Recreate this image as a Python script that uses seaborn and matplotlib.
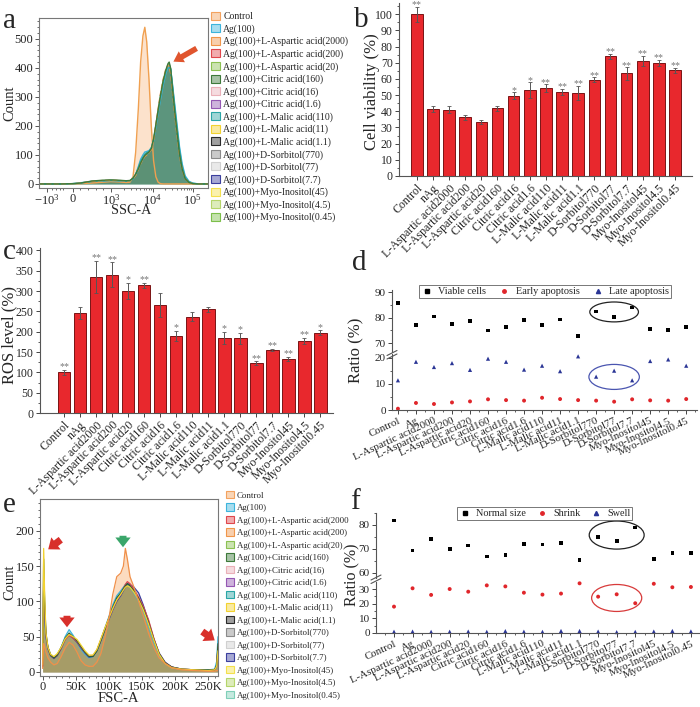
import numpy as np
import pandas as pd
import matplotlib
matplotlib.use("Agg")
import matplotlib.pyplot as plt
import seaborn as sns
from matplotlib.patches import Patch, Ellipse
from matplotlib.lines import Line2D
from matplotlib.colors import to_rgba
from matplotlib.ticker import MultipleLocator, FixedLocator

sns.set_theme(style="ticks")
plt.rcParams["font.family"] = ["Liberation Serif", "DejaVu Serif"]
plt.rcParams["mathtext.fontset"] = "custom"
plt.rcParams["mathtext.rm"] = "Liberation Serif"
plt.rcParams["axes.linewidth"] = 0.8

# ---------------- data ----------------
b_labels = ["Control", "nAg", "L-Aspartic acid2000", "L-Aspartic acid200", "L-Aspartic acid20",
            "Citric acid160", "Citric acid16", "Citric acid1.6", "L-Malic acid110", "L-Malic acid11",
            "L-Malic acid1.1", "D-Sorbitol770", "D-Sorbitol77", "D-Sorbitol7.7", "Myo-Inositol45",
            "Myo-Inositol4.5", "Myo-Inositol0.45"]
d_labels = ["Control", "Ag"] + b_labels[2:]

viability = [100, 41.5, 41, 36.2, 33.6, 41.8, 49.7, 53, 54.5, 52, 51.3, 59.6, 74, 63.4, 71.3, 70, 65.5]
viability_err = [4.5, 1.8, 2, 1.5, 1.2, 1.5, 2.2, 5, 2.3, 2, 4.5, 1.5, 1.6, 3.8, 3, 2, 1.5]
viability_sig = ["**", "", "", "", "", "", "*", "*", "**", "**", "**", "**", "**", "**", "**", "**", "**"]

ros = [100, 246, 335, 340, 301, 314, 265, 190, 237, 255, 185, 184, 122, 155, 133, 178, 198]
ros_err = [7, 15, 40, 31, 20, 6, 30, 12, 11, 7, 15, 14, 5, 3, 6, 7, 6]
ros_sig = ["**", "", "**", "**", "*", "**", "", "*", "", "", "*", "*", "**", "**", "**", "**", "*"]

viable_cells = [85.8, 77.1, 80.4, 77.6, 78.7, 74.9, 76.3, 79.1, 77.2, 79.3, 72.8, 82.4, 80.3, 83.9, 75.4, 75.0, 76.3]
early_apoptosis = [0.5, 2.7, 2.3, 2.9, 3.3, 4.1, 3.8, 3.6, 4.7, 4.2, 3.8, 3.6, 3.2, 4.1, 3.7, 3.6, 4.2]
late_apoptosis = [11.4, 18.5, 16.5, 18.0, 15.4, 19.7, 18.5, 15.5, 17.0, 14.9, 20.6, 12.8, 15.1, 11.4, 18.8, 19.4, 17.0]

normal_size = [81.9, 69.3, 74.2, 70.0, 71.5, 66.9, 67.5, 72.1, 71.9, 72.4, 65.4, 75.0, 73.3, 78.9, 65.9, 68.2, 68.2]
shrink = [18.0, 30.5, 26.0, 30.0, 28.2, 32.5, 31.8, 27.5, 26.2, 26.9, 33.9, 24.8, 26.4, 20.3, 33.6, 31.2, 31.4]
swell = [0.9, 1.0, 0.8, 0.9, 1.0, 0.8, 1.3, 0.9, 0.8, 1.4, 1.4, 1.0, 0.6, 0.8, 1.0, 1.4, 1.1]

a_legend = ["Control", "Ag(100)", "Ag(100)+L-Aspartic acid(2000)", "Ag(100)+L-Aspartic acid(200)",
            "Ag(100)+L-Aspartic acid(20)", "Ag(100)+Citric acid(160)", "Ag(100)+Citric acid(16)",
            "Ag(100)+Citric acid(1.6)", "Ag(100)+L-Malic acid(110)", "Ag(100)+L-Malic acid(11)",
            "Ag(100)+L-Malic acid(1.1)", "Ag(100)+D-Sorbitol(770)", "Ag(100)+D-Sorbitol(77)",
            "Ag(100)+D-Sorbitol(7.7)", "Ag(100)+Myo-Inositol(45)", "Ag(100)+Myo-Inositol(4.5)",
            "Ag(100)+Myo-Inositol(0.45)"]
e_legend = ["Control", "Ag(100)", "Ag(100)+L-Aspartic acid(2000", "Ag(100)+L-Aspartic acid(200)"] + a_legend[4:]
a_colors = ["#f3a25e", "#3cb4dc", "#f0964a", "#e0474c", "#8cc152", "#3d7a3a", "#eab0b8", "#9457b3",
            "#2aa6a6", "#f2d230", "#2a2a2a", "#8a8a8a", "#d0d0d0", "#3b3f9e", "#f4e04d", "#b5d56a", "#7cbf4a"]
e_colors = ["#f3a25e", "#3cb4dc", "#e0474c", "#f0964a", "#8cc152", "#3d7a3a", "#eab0b8", "#9457b3",
            "#2aa6a6", "#f2d230", "#2a2a2a", "#8a8a8a", "#d0d0d0", "#3b3f9e", "#f4e04d", "#b5d56a", "#7fcfb8"]

# SSC-A histograms (x in display units of the biexponential axis)
a_x = [-0.89, -0.3, 0.0, 0.2, 0.5, 0.8, 1.0, 1.2, 1.4, 1.5, 1.58, 1.65, 1.72, 1.78, 1.84, 1.89, 1.94, 2.0, 2.06,
       2.12, 2.18, 2.24, 2.3, 2.37, 2.44, 2.5, 2.53, 2.57, 2.62, 2.68, 2.74, 2.8, 2.87, 2.95, 3.05, 3.15, 3.3, 3.55]
a_control = [0, 0, 0, 1, 3, 6, 8, 7, 5, 6, 25, 110, 260, 420, 510, 540, 490, 360, 200, 80,
             25, 6, 1, 0, 0, 0, 0, 0, 0, 0, 0, 0, 0, 0, 0, 0, 0, 0]
a_ag = [0, 0, 1, 4, 9, 11, 12, 11, 9, 11, 18, 32, 60, 85, 100, 110, 112, 115, 125, 150,
        195, 245, 290, 340, 380, 402, 405, 395, 340, 270, 200, 130, 70, 28, 9, 3, 0, 0]
a_asp2000 = [0, 0, 1, 3, 9, 12, 13, 12, 10, 11, 18, 30, 50, 70, 85, 95, 100, 108, 118, 148,
             205, 260, 310, 360, 395, 410, 406, 380, 315, 235, 165, 100, 50, 18, 5, 1, 0, 0]
a_cit160 = [0, 0, 1, 3, 10, 13, 14, 13, 11, 12, 20, 34, 52, 72, 88, 98, 104, 110, 122, 155,
            205, 255, 305, 355, 392, 415, 420, 398, 325, 245, 175, 105, 52, 18, 5, 1, 0, 0]
a_mal110 = [0, 0, 1, 3, 9, 11, 12, 11, 10, 11, 19, 33, 56, 78, 92, 102, 108, 112, 122, 152,
            200, 250, 298, 348, 388, 408, 412, 396, 335, 258, 188, 118, 60, 22, 7, 2, 0, 0]

# FSC-A histograms (x in K)
e_x = [0, 1.5, 3, 5, 8, 12, 17, 22, 28, 34, 40, 46, 52, 58, 64, 70, 76, 82, 88, 94,
       100, 106, 112, 118, 122, 125, 128, 132, 138, 145, 152, 160, 168, 176, 185, 195, 210, 230, 250, 260, 263, 265]
e_control = [5, 40, 35, 28, 20, 14, 10, 12, 22, 34, 42, 38, 28, 16, 10, 8, 8, 14, 26, 48,
             75, 110, 135, 140, 150, 175, 160, 135, 120, 100, 80, 55, 35, 20, 12, 6, 3, 2, 1, 1, 2, 2]
e_ag = [10, 115, 80, 50, 35, 25, 20, 24, 35, 50, 60, 52, 42, 32, 25, 20, 22, 30, 45, 62,
        78, 95, 108, 115, 120, 124, 126, 120, 112, 100, 85, 65, 42, 24, 12, 7, 4, 3, 3, 4, 15, 50]
e_asp2000 = [8, 130, 90, 52, 34, 24, 20, 24, 34, 46, 52, 48, 43, 35, 28, 22, 23, 31, 46, 61,
             76, 90, 102, 110, 118, 124, 128, 125, 117, 106, 93, 74, 48, 26, 13, 7, 4, 3, 2, 3, 8, 35]
e_cit160 = [10, 160, 100, 55, 35, 24, 20, 24, 35, 48, 55, 50, 44, 36, 28, 22, 22, 30, 45, 60,
            76, 92, 105, 112, 118, 122, 125, 122, 115, 104, 90, 70, 46, 26, 13, 7, 4, 3, 3, 3, 10, 40]
e_mal11 = [10, 175, 110, 55, 35, 25, 22, 26, 35, 47, 53, 50, 46, 38, 30, 24, 24, 32, 47, 62,
           76, 90, 102, 110, 116, 120, 122, 120, 113, 102, 88, 68, 45, 25, 12, 6, 4, 3, 2, 3, 8, 30]
e_sorb77 = [8, 120, 85, 50, 33, 23, 19, 23, 33, 46, 52, 48, 42, 34, 27, 21, 22, 30, 44, 60,
            74, 88, 100, 108, 115, 120, 125, 124, 120, 112, 95, 72, 47, 27, 14, 7, 4, 3, 2, 3, 8, 35]

# ---------------- layout helpers ----------------
W, H = 700, 707
fig = plt.figure(figsize=(W / 100, H / 100), dpi=100)
fig.patch.set_facecolor("white")


def rect(l, t, r, b):
    return [l / W, 1 - b / H, (r - l) / W, (b - t) / H]


def fpx(x, y):
    return (x, H - y)


BAR = "#e8282d"
BAR_EDGE = "#7a1414"


def style_box(ax):
    for s in ax.spines.values():
        s.set_color("#777777")
        s.set_linewidth(0.8)
    ax.tick_params(which="major", direction="out", length=3, width=0.7, color="#555555", labelsize=9, pad=1)
    ax.tick_params(which="minor", direction="out", length=1.6, width=0.6, color="#555555")


def style_open(ax, labelsize=8.5):
    sns.despine(ax=ax)
    for s in ax.spines.values():
        s.set_color("#555555")
        s.set_linewidth(0.8)
    ax.tick_params(which="major", direction="out", length=3, width=0.7, color="#444444", labelsize=labelsize, pad=1.5)
    ax.tick_params(which="minor", direction="out", length=1.6, width=0.6, color="#444444")


def letter(x, y, s):
    fig.text(x / W, 1 - y / H, s, fontsize=21, ha="left", va="baseline")


def stars(ax, vals, errs, sigs, offset):
    for i, (v, e, s) in enumerate(zip(vals, errs, sigs)):
        if s:
            ax.text(i, v + e + offset, s, ha="center", va="center", fontsize=7.2, color="#777777", clip_on=False)

# ---------------- panel a ----------------
axa = fig.add_axes(rect(39, 18, 208, 188))
a_curves = [(a_control, "#f0a050", "#fcd9bb", 0.75, "-"),
            (a_ag, "#3cb4dc", "#3cb4dc", 0.35, "-"),
            (a_mal110, "#2aa6a6", "#2aa6a6", 0.35, "-"),
            (a_asp2000, "#f0964a", "#5a8a50", 0.35, "--"),
            (a_cit160, "#3d7a3a", "#3d6e4a", 0.45, "-")]
for cnt, ec, fc, al, ls in a_curves:
    axa.fill_between(a_x, cnt, color=fc, alpha=al, lw=0)
for cnt, ec, fc, al, ls in a_curves:
    sns.lineplot(x=a_x, y=cnt, ax=axa, color=ec, lw=1.0, ls=ls, estimator=None, sort=False)
axa.set_xlim(-0.89, 3.55)
axa.set_ylim(-14, 572)
axa.set_xticks([-0.68, 0, 1, 2.1, 3.15])
axa.set_xticklabels([r"$\mathregular{-10^3}$", "0", r"$\mathregular{10^3}$", r"$\mathregular{10^4}$", r"$\mathregular{10^5}$"])
minor_a = [-0.55, -0.45, -0.35, -0.25, 0.2, 0.4, 0.6, 0.8]
minor_a += [1 + 1.1 * np.log10(k) for k in range(2, 10)] + [2.1 + 1.05 * np.log10(k) for k in range(2, 10)]
axa.xaxis.set_minor_locator(FixedLocator(minor_a))
axa.set_yticks([0, 100, 200, 300, 400, 500])
axa.yaxis.set_minor_locator(MultipleLocator(20))
style_box(axa)
axa.tick_params(axis="x", which="major", pad=0.5)
axa.set_xlabel("")
axa.set_ylabel("")
fig.text(10 / W, 1 - 103 / H, "Count", rotation=90, fontsize=10.5, ha="center", va="center")
fig.text(131 / W, 1 - 211 / H, "SSC-A", fontsize=10.2, ha="center", va="center")
fig.add_artist(matplotlib.patches.FancyArrowPatch(fpx(199, 47), fpx(171, 63), transform=None,
               arrowstyle="simple,head_length=0.7,head_width=0.9,tail_width=0.4", mutation_scale=10,
               color="#e0552e", lw=0))
letter(3, 28, "a")
ha = [Patch(facecolor=to_rgba(c, 0.45), edgecolor=c, lw=0.8) for c in a_colors]
fig.legend(ha, a_legend, loc="upper left", bbox_to_anchor=(211 / W, 1 - 12 / H), frameon=False,
           fontsize=7, handlelength=0.9, handleheight=0.9, handletextpad=0.35, labelspacing=0.30,
           borderpad=0, borderaxespad=0)

# ---------------- panel b ----------------
axb = fig.add_axes(rect(399, 3, 692, 176))
sns.barplot(x=b_labels, y=viability, ax=axb, color=BAR, edgecolor=BAR_EDGE, linewidth=0.7,
            width=0.72, saturation=1, errorbar=None)
axb.errorbar(range(len(viability)), viability, yerr=viability_err, fmt="none", ecolor="#555555",
             elinewidth=0.7, capsize=1.5, capthick=0.6)
stars(axb, viability, viability_err, viability_sig, 1.2)
axb.set_xlim(-1.1, 17.05)
axb.set_ylim(0, 107)
axb.set_yticks(range(0, 101, 10))
axb.yaxis.set_minor_locator(MultipleLocator(5))
axb.set_xticks(range(17))
axb.set_xticklabels(b_labels, rotation=45, ha="right", rotation_mode="anchor")
style_open(axb)
axb.set_ylabel("")
fig.text(372 / W, 1 - 92 / H, "Cell viability (%)", rotation=90, fontsize=12, ha="center", va="center")
letter(354, 27, "b")

# ---------------- panel c ----------------
axc = fig.add_axes(rect(40, 248, 333, 413))
sns.barplot(x=b_labels, y=ros, ax=axc, color=BAR, edgecolor=BAR_EDGE, linewidth=0.7,
            width=0.8, saturation=1, errorbar=None)
axc.errorbar(range(len(ros)), ros, yerr=ros_err, fmt="none", ecolor="#555555",
             elinewidth=0.7, capsize=1.5, capthick=0.6)
stars(axc, ros, ros_err, ros_sig, 7)
axc.set_xlim(-1.5, 16.8)
axc.set_ylim(0, 406)
axc.set_yticks(range(0, 401, 50))
axc.yaxis.set_minor_locator(MultipleLocator(25))
axc.set_xticks(range(17))
axc.set_xticklabels(b_labels, rotation=45, ha="right", rotation_mode="anchor")
style_open(axc)
axc.set_ylabel("")
fig.text(9 / W, 1 - 335 / H, "ROS level (%)", rotation=90, fontsize=12, ha="center", va="center")
letter(3, 259, "c")

# ---------------- panel d ----------------
xs = list(range(17))
axd1 = fig.add_axes(rect(392, 290, 697, 352))
axd2 = fig.add_axes(rect(392, 354, 697, 410))
sns.scatterplot(x=xs, y=viable_cells, ax=axd1, color="black", marker="s", s=7, edgecolor="none", clip_on=False)
sns.scatterplot(x=xs, y=early_apoptosis, ax=axd2, color="#e0262b", marker="o", s=8, edgecolor="none", clip_on=False)
sns.scatterplot(x=xs, y=late_apoptosis, ax=axd2, color="#2a3595", marker="^", s=9, edgecolor="none", clip_on=False)
for ax in (axd1, axd2):
    ax.set_xlim(-0.33, 16.6)
axd1.set_ylim(66.5, 90.8)
axd2.set_ylim(0, 21.5)
axd1.set_yticks([70, 80, 90])
axd1.yaxis.set_minor_locator(MultipleLocator(5))
axd2.set_yticks([0, 10, 20])
axd2.yaxis.set_minor_locator(MultipleLocator(5))
style_open(axd1, 8)
style_open(axd2, 8)
axd1.spines["bottom"].set_visible(False)
axd1.set_xticks([])
axd2.set_xticks(xs)
axd2.xaxis.set_minor_locator(MultipleLocator(0.5))
axd2.set_xticklabels(d_labels, rotation=25, ha="right", rotation_mode="anchor", fontsize=7.8)
axd1.add_patch(Ellipse((12, 82.2), 2.7, 7.8, fill=False, ec="#222222", lw=0.9))
axd2.add_patch(Ellipse((12, 12.7), 2.8, 9.6, fill=False, ec="#4a55b0", lw=0.9))
hd = [Line2D([], [], ls="none", marker="s", color="black", ms=2.5),
      Line2D([], [], ls="none", marker="o", color="#e0262b", ms=2.5),
      Line2D([], [], ls="none", marker="^", color="#2a3595", ms=3)]
legd = axd1.legend(hd, ["Viable cells", "Early apoptosis", "Late apoptosis"], loc="center",
                   bbox_to_anchor=(545 / W, 1 - 291.5 / H), bbox_transform=fig.transFigure, ncol=3,
                   fontsize=7.4, frameon=True, fancybox=False, edgecolor="#555555", borderpad=0.15,
                   handletextpad=0.5, columnspacing=1.2, handlelength=1.2)
legd.get_frame().set_linewidth(0.7)
fig.text(356 / W, 1 - 350 / H, "Ratio (%)", rotation=90, fontsize=12, ha="center", va="center")
for dy in (0, 3.5):
    fig.add_artist(Line2D([387 / W, 397 / W], [1 - (355.5 + dy) / H, 1 - (350.5 + dy) / H], color="#555555", lw=0.8))
letter(352, 270, "d")

# ---------------- panel e ----------------
axe = fig.add_axes(rect(40, 499, 218, 676))
e_curves = [(e_control, "#f0904a", "#fcd3b0", 0.8),
            (e_ag, "#3cb4dc", "#3cb4dc", 0.3),
            (e_sorb77, "#3b3f9e", "#8a8a8a", 0.3),
            (e_asp2000, "#e0474c", "#e0474c", 0.25),
            (e_cit160, "#2f5f2f", "#3d7a3a", 0.3),
            (e_mal11, "#f2d230", "#c8b040", 0.35)]
for cnt, ec, fc, al in e_curves:
    axe.fill_between(e_x, cnt, color=fc, alpha=al, lw=0)
for cnt, ec, fc, al in e_curves[1:] + e_curves[:1]:
    sns.lineplot(x=e_x, y=cnt, ax=axe, color=ec, lw=0.9, estimator=None, sort=False)
axe.set_xlim(-4, 265)
axe.set_ylim(-5.7, 245)
axe.set_xticks([0, 50, 100, 150, 200, 250])
axe.set_xticklabels(["0", "50K", "100K", "150K", "200K", "250K"])
axe.xaxis.set_minor_locator(MultipleLocator(10))
axe.set_yticks([0, 50, 100, 150, 200])
axe.yaxis.set_minor_locator(MultipleLocator(10))
style_box(axe)
axe.tick_params(axis="x", which="major", pad=0.5)
axe.set_xlabel("")
axe.set_ylabel("")
fig.text(10 / W, 1 - 582 / H, "Count", rotation=90, fontsize=10.5, ha="center", va="center")
fig.text(118 / W, 1 - 699 / H, "FSC-A", fontsize=10.5, ha="center", va="center")
arrow_style = "simple,head_length=0.7,head_width=1.1,tail_width=0.5"
for tail, head, col in [((63, 538), (46, 551), "#d8302b"),
                        ((67, 613), (67, 630), "#d8302b"),
                        ((123, 533), (123, 550), "#3aa66a"),
                        ((200, 630), (217, 642), "#d8302b")]:
    fig.add_artist(matplotlib.patches.FancyArrowPatch(fpx(*tail), fpx(*head), transform=None,
                   arrowstyle=arrow_style, mutation_scale=10, color=col, lw=0))
letter(3, 512, "e")
he = [Patch(facecolor=to_rgba(c, 0.45), edgecolor=c, lw=0.8) for c in e_colors]
fig.legend(he, e_legend, loc="upper left", bbox_to_anchor=(226 / W, 1 - 491 / H), frameon=False,
           fontsize=6.4, handlelength=0.9, handleheight=0.9, handletextpad=0.35, labelspacing=0.42,
           borderpad=0, borderaxespad=0)

# ---------------- panel f ----------------
axf1 = fig.add_axes(rect(376, 513, 700, 578))
axf2 = fig.add_axes(rect(376, 582, 700, 633))
sns.scatterplot(x=xs, y=normal_size, ax=axf1, color="black", marker="s", s=7, edgecolor="none", clip_on=False)
sns.scatterplot(x=xs, y=shrink, ax=axf2, color="#e0262b", marker="o", s=8, edgecolor="none", clip_on=False)
sns.scatterplot(x=xs, y=swell, ax=axf2, color="#2a3595", marker="^", s=9, edgecolor="none", clip_on=False)
for ax in (axf1, axf2):
    ax.set_xlim(-0.97, 16.49)
axf1.set_ylim(57.9, 85)
axf2.set_ylim(0, 34.8)
axf1.set_yticks([60, 70, 80])
axf1.yaxis.set_minor_locator(MultipleLocator(5))
axf2.set_yticks([0, 10, 20, 30])
axf2.yaxis.set_minor_locator(MultipleLocator(5))
style_open(axf1, 8)
style_open(axf2, 8)
axf1.spines["bottom"].set_visible(False)
axf1.set_xticks([])
axf2.set_xticks(xs)
axf2.xaxis.set_minor_locator(MultipleLocator(0.5))
axf2.set_xticklabels(d_labels, rotation=25, ha="right", rotation_mode="anchor", fontsize=7.8)
axf1.add_patch(Ellipse((12, 75.8), 2.96, 11.7, fill=False, ec="#222222", lw=0.9))
axf2.add_patch(Ellipse((12, 23.9), 2.7, 18.4, fill=False, ec="#d83a3a", lw=0.9))
legf = axf1.legend(hd, ["Normal size", "Shrink", "Swell"], loc="center",
                   bbox_to_anchor=(544.5 / W, 1 - 513.5 / H), bbox_transform=fig.transFigure, ncol=3,
                   fontsize=7.4, frameon=True, fancybox=False, edgecolor="#555555", borderpad=0.15,
                   handletextpad=0.5, columnspacing=0.9, handlelength=1.2)
legf.get_frame().set_linewidth(0.7)
fig.text(352 / W, 1 - 575 / H, "Ratio (%)", rotation=90, fontsize=11.5, ha="center", va="center")
for dy in (0, 3.5):
    fig.add_artist(Line2D([371 / W, 381 / W], [1 - (580 + dy) / H, 1 - (575 + dy) / H], color="#555555", lw=0.8))
letter(350, 509, "f")

fig.savefig("out.png", dpi=100, facecolor="white")
